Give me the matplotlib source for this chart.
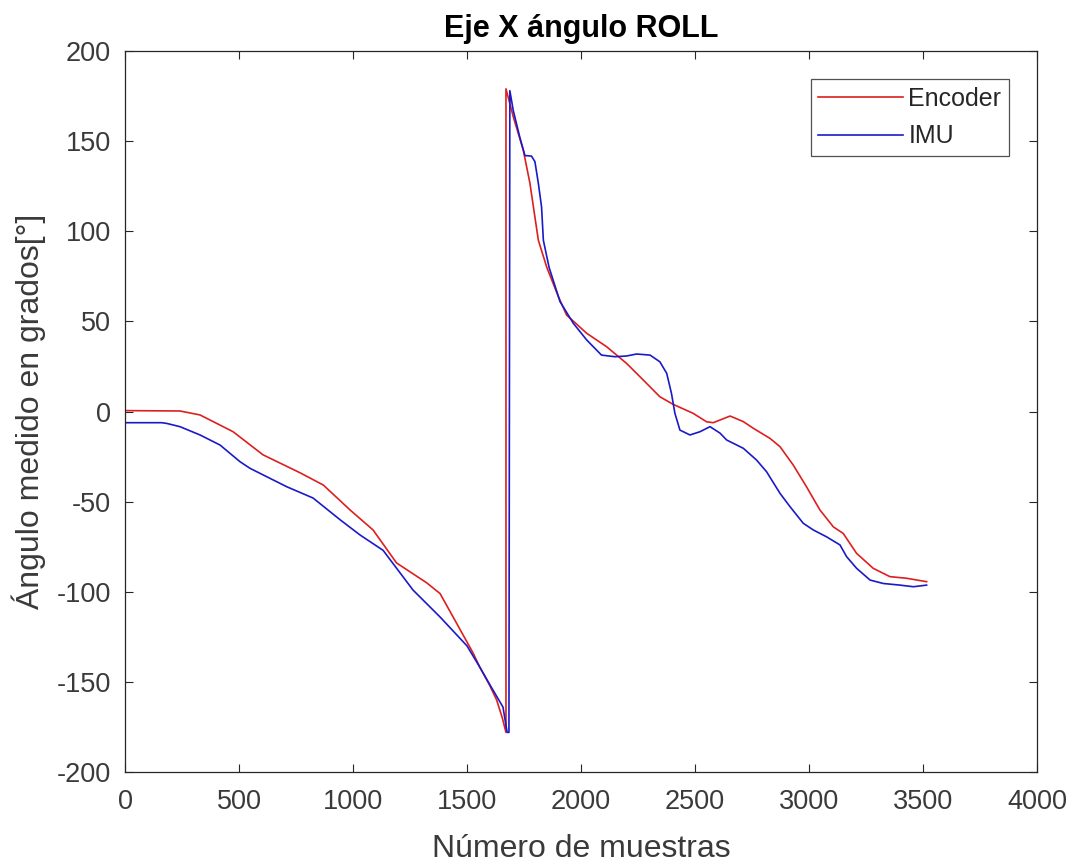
import matplotlib
matplotlib.use("Agg")
import matplotlib.pyplot as plt

plt.rcParams['font.family'] = ['Liberation Sans', 'DejaVu Sans']
plt.rcParams['axes.unicode_minus'] = False

# Encoder (red) samples
enc_x = [0, 241, 329, 474, 605, 768, 870, 987, 1088, 1191, 1323, 1382, 1455,
         1527, 1557, 1600, 1630, 1655, 1671, 1671, 1703, 1747, 1776, 1813, 1850,
         1900, 1937, 2025, 2112, 2200, 2273, 2346, 2404, 2492, 2551, 2580, 2654,
         2712, 2756, 2829, 2873, 2931, 2989, 3048, 3107, 3150, 3209, 3282, 3355,
         3428, 3516]
enc_y = [0.5, 0.3, -1.9, -11.2, -24, -34, -40.8, -54.6, -65.7, -84, -95, -101,
         -117.6, -134, -142, -152, -160, -170, -178, 179, 163.5, 145, 126.7, 95,
         80, 64, 53.5, 43.4, 36, 26.7, 17.5, 8.2, 4, -1, -5.7, -6.2, -2.5, -5.6,
         -9.3, -14.9, -19.5, -29.7, -41.7, -54.6, -64, -67.6, -78.7, -87, -91.6,
         -92.5, -94.4]

# IMU (blue) samples
imu_x = [0, 161, 183, 241, 329, 417, 504, 548, 709, 825, 943, 1031, 1132, 1263,
         1382, 1500, 1557, 1601, 1658, 1676, 1684, 1688, 1703, 1732, 1754, 1783,
         1798, 1813, 1827, 1835, 1860, 1908, 1966, 2025, 2090, 2149, 2200, 2244,
         2303, 2346, 2376, 2397, 2412, 2434, 2478, 2522, 2566, 2610, 2639, 2712,
         2770, 2814, 2873, 2917, 2975, 3019, 3077, 3136, 3165, 3209, 3268, 3326,
         3399, 3458, 3516]
imu_y = [-6.2, -6.2, -6.6, -8.4, -13, -18.6, -27.8, -31.5, -41.7, -48, -60,
         -68.5, -77, -99, -114, -130, -142, -151.7, -164, -178, -178, 178, 167,
         152, 142, 141.7, 138.6, 126.6, 113.6, 95, 80, 61, 49, 39.7, 31.3, 30.4,
         30.8, 31.9, 31.3, 27.6, 21.2, 10, -1, -10.3, -13, -11.2, -8.4, -12,
         -15.8, -20.4, -26.9, -33.4, -45.4, -52.8, -62, -65.7, -69.5, -74, -80.5,
         -87, -93.5, -95.4, -96.3, -97.2, -96.3]

x_ticks = [0, 500, 1000, 1500, 2000, 2500, 3000, 3500, 4000]
y_ticks = [-200, -150, -100, -50, 0, 50, 100, 150, 200]

fig = plt.figure(figsize=(10.74, 8.63), dpi=100)
ax = fig.add_axes([0.1164, 0.1054, 0.8491, 0.8355])

ax.plot(enc_x, enc_y, color='#dd1f1f', lw=1.2, label='Encoder')
ax.plot(imu_x, imu_y, color='#1a1ac8', lw=1.2, label='IMU')

ax.set_xlim(0, 4000)
ax.set_ylim(-200, 200)
ax.set_xticks(x_ticks)
ax.set_yticks(y_ticks)
ax.tick_params(direction='in', length=6, width=0.8, top=True, right=True,
               labelsize=19.5, labelcolor='#3a3a3a', color='#262626')
ax.tick_params(axis='x', pad=12)
ax.tick_params(axis='y', pad=10)
for s in ax.spines.values():
    s.set_color('#262626')
    s.set_linewidth(0.9)

ax.set_title('Eje X ángulo ROLL', fontsize=22, fontweight='bold', pad=10)
ax.set_xlabel('Número de muestras', fontsize=23, color='#3a3a3a', labelpad=14)
ax.set_ylabel('Ángulo medido en grados[°]', fontsize=23, color='#3a3a3a', labelpad=8)

leg = ax.legend(loc='upper right', fontsize=18, frameon=True, fancybox=False,
                borderpad=0.3, handlelength=3.4, handletextpad=0.2,
                labelspacing=0.55, borderaxespad=1.12)
leg.get_frame().set_edgecolor('#262626')
leg.get_frame().set_linewidth(0.9)
for t in leg.get_texts():
    t.set_color('#262626')

fig.savefig('out.png', dpi=100)
